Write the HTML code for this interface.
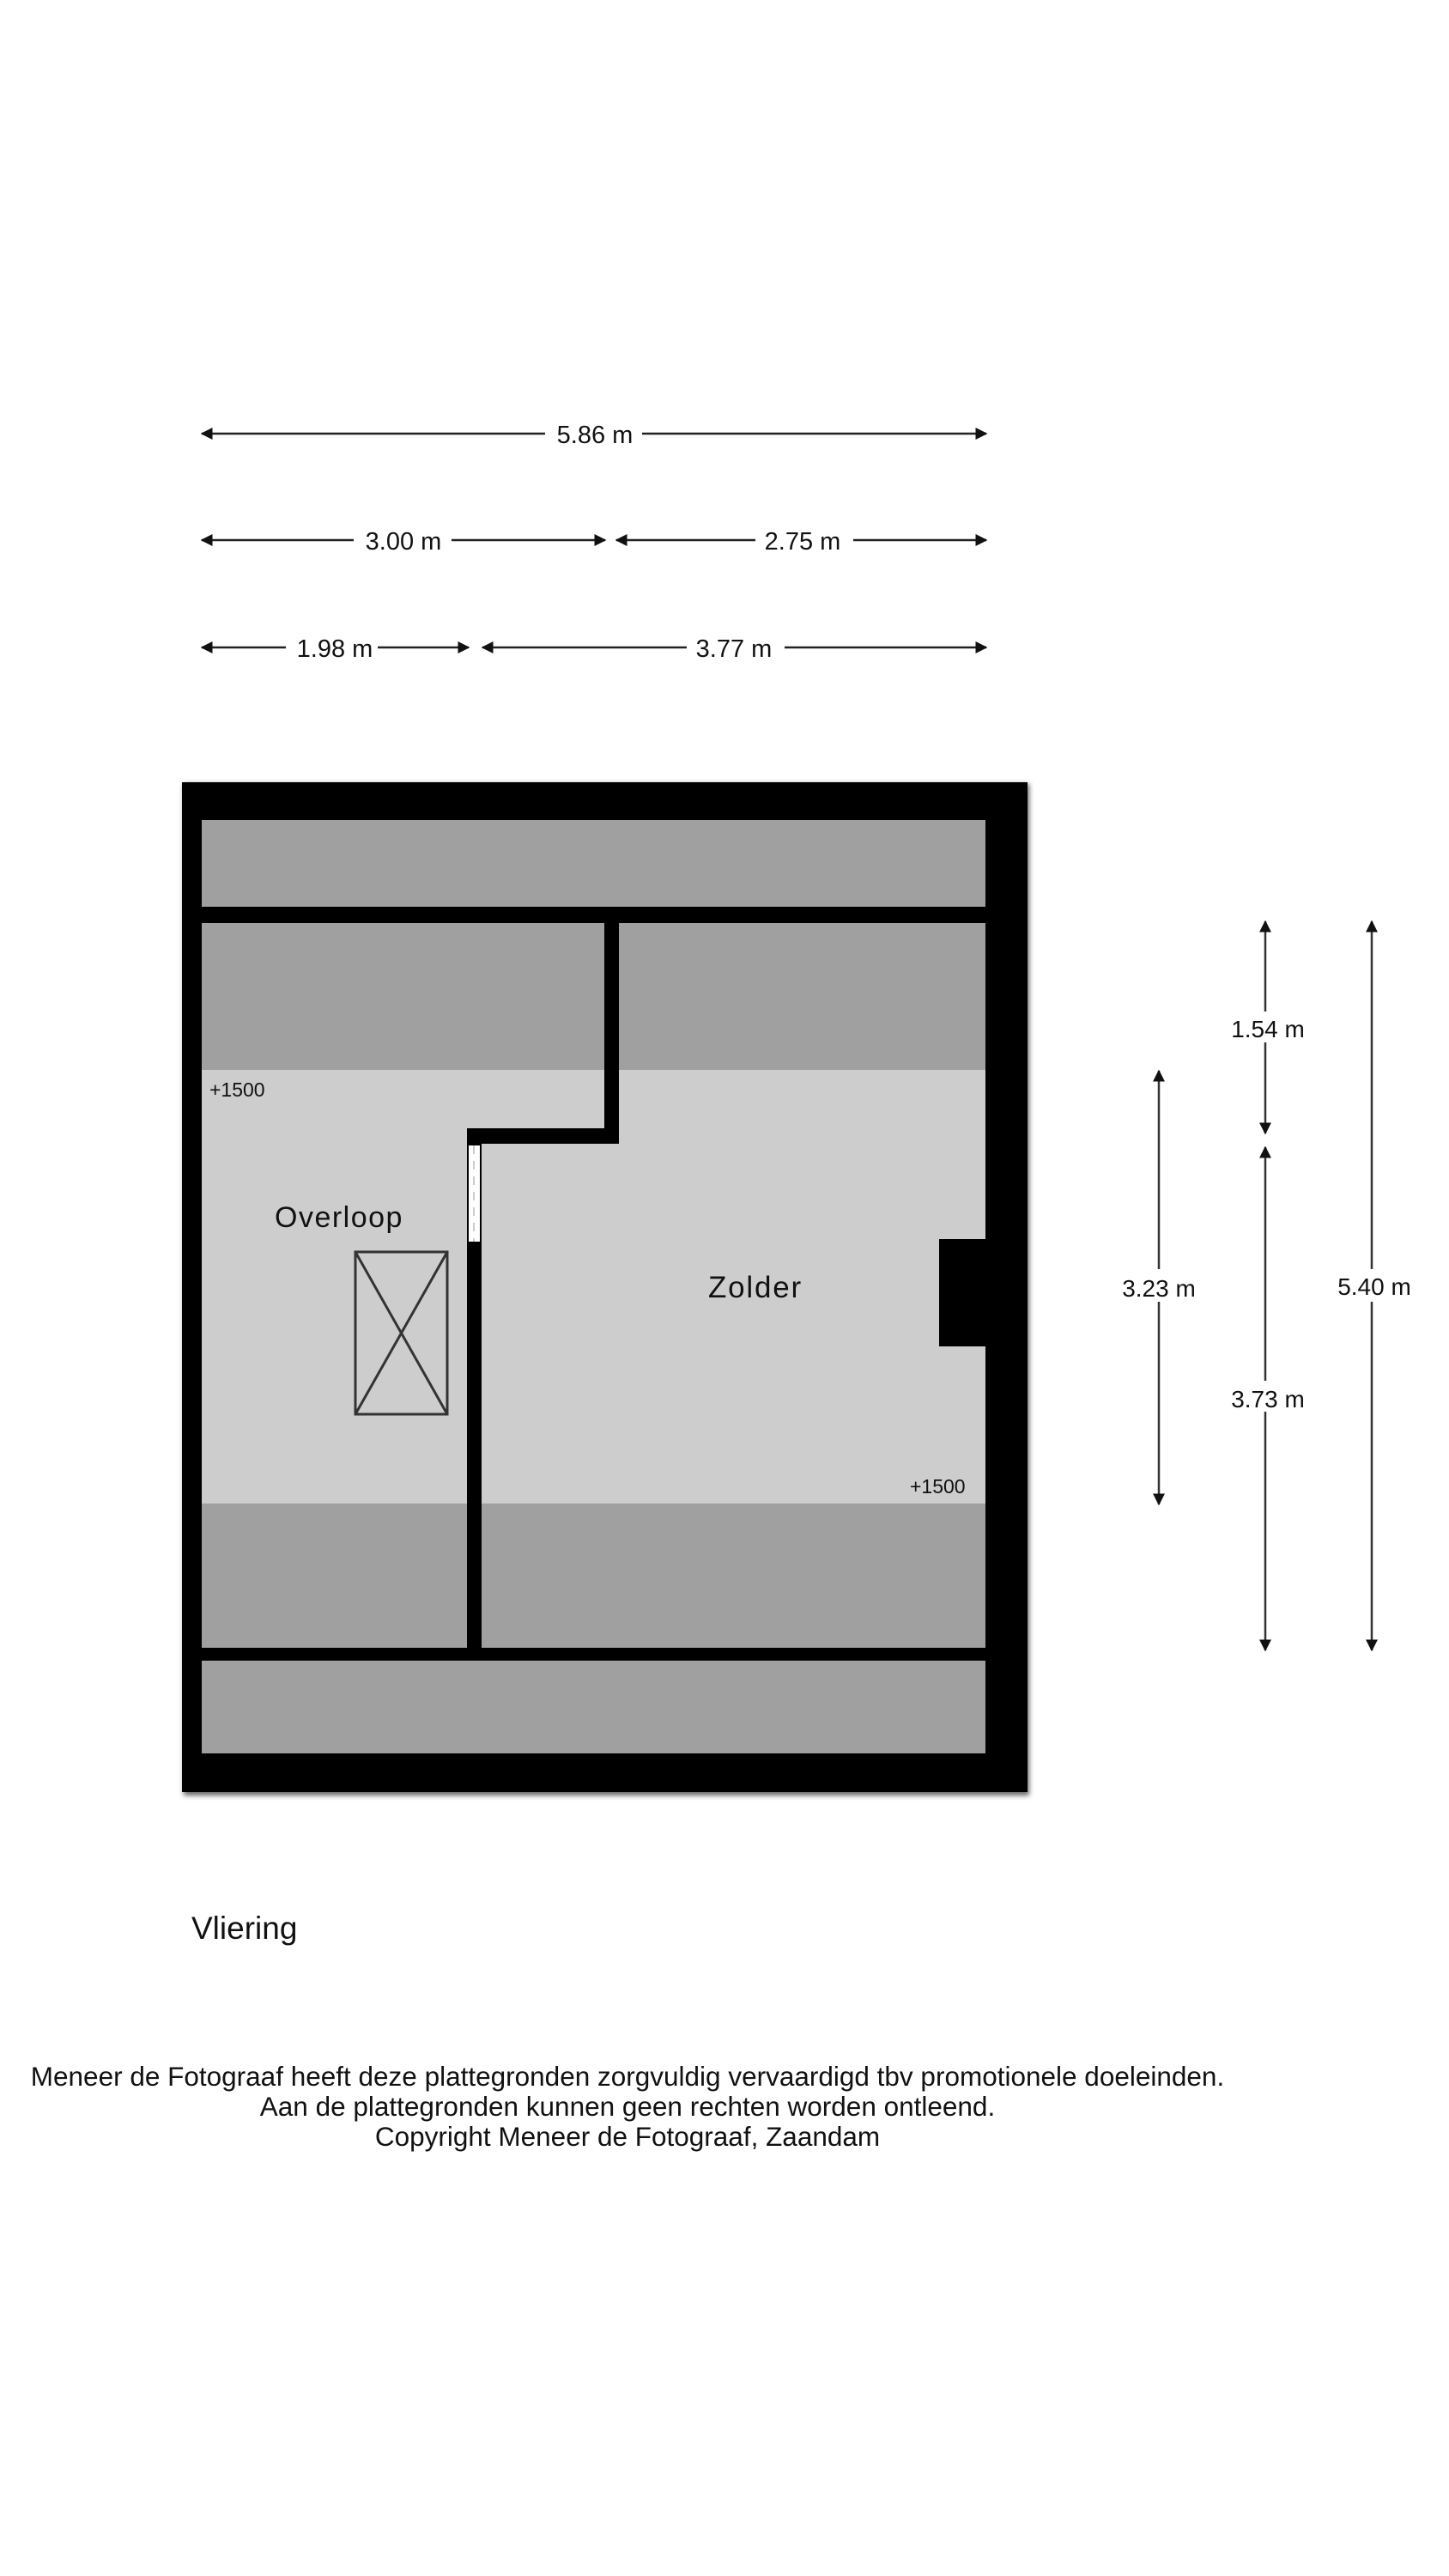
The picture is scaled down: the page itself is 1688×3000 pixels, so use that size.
<!DOCTYPE html>
<html><head><meta charset="utf-8"><style>
html,body{margin:0;padding:0;background:#fff;}
svg{display:block;}
text{font-family:"Liberation Sans",Arial,sans-serif;fill:#111;}
</style></head><body>
<svg width="1688" height="3000" viewBox="0 0 1688 3000" xmlns="http://www.w3.org/2000/svg">
<defs>
<marker id="a" viewBox="0 0 10 10" refX="9" refY="5" markerWidth="14" markerHeight="14" markerUnits="userSpaceOnUse" orient="auto-start-reverse"><path d="M0,0 L10,5 L0,10 z" fill="#111"/></marker>
<filter id="sh"><feGaussianBlur stdDeviation="3"/></filter>
</defs>
<g stroke="#222" stroke-width="2.5" fill="none">
<line x1="235" y1="505" x2="635" y2="505" marker-start="url(#a)"/>
<line x1="748" y1="505" x2="1149" y2="505" marker-end="url(#a)"/>
<line x1="235" y1="629" x2="412" y2="629" marker-start="url(#a)"/>
<line x1="526" y1="629" x2="705" y2="629" marker-end="url(#a)"/>
<line x1="718" y1="629" x2="880" y2="629" marker-start="url(#a)"/>
<line x1="994" y1="629" x2="1149" y2="629" marker-end="url(#a)"/>
<line x1="235" y1="754" x2="333" y2="754" marker-start="url(#a)"/>
<line x1="440" y1="754" x2="546" y2="754" marker-end="url(#a)"/>
<line x1="562" y1="754" x2="800" y2="754" marker-start="url(#a)"/>
<line x1="914" y1="754" x2="1149" y2="754" marker-end="url(#a)"/>
</g>
<g font-size="29" text-anchor="middle">
<text x="693" y="516" font-family="Liberation Sans Narrow, Liberation Sans, sans-serif">5.86 m</text>
<text x="470" y="640" font-family="Liberation Sans Narrow, Liberation Sans, sans-serif">3.00 m</text>
<text x="935" y="640" font-family="Liberation Sans Narrow, Liberation Sans, sans-serif">2.75 m</text>
<text x="390" y="765" font-family="Liberation Sans Narrow, Liberation Sans, sans-serif">1.98 m</text>
<text x="855" y="765" font-family="Liberation Sans Narrow, Liberation Sans, sans-serif">3.77 m</text>
</g>
<g stroke="#333" stroke-width="2.5" fill="none">
<line x1="1350" y1="1247" x2="1350" y2="1478" marker-start="url(#a)"/>
<line x1="1350" y1="1516" x2="1350" y2="1752" marker-end="url(#a)"/>
<line x1="1474" y1="1073" x2="1474" y2="1178" marker-start="url(#a)"/>
<line x1="1474" y1="1214" x2="1474" y2="1320" marker-end="url(#a)"/>
<line x1="1474" y1="1336" x2="1474" y2="1608" marker-start="url(#a)"/>
<line x1="1474" y1="1644" x2="1474" y2="1922" marker-end="url(#a)"/>
<line x1="1598" y1="1073" x2="1598" y2="1478" marker-start="url(#a)"/>
<line x1="1598" y1="1516" x2="1598" y2="1922" marker-end="url(#a)"/>
</g>
<g font-size="28" text-anchor="middle">
<text x="1350" y="1510">3.23 m</text>
<text x="1477" y="1208">1.54 m</text>
<text x="1477" y="1639">3.73 m</text>
<text x="1601" y="1508">5.40 m</text>
</g>
<rect x="214" y="913" width="985" height="1178" fill="#666" filter="url(#sh)"/>
<rect x="212" y="911" width="985" height="1176" fill="#000"/>
<rect x="235" y="955" width="913" height="101" fill="#a0a0a0"/>
<rect x="235" y="1075" width="913" height="171" fill="#a0a0a0"/>
<rect x="235" y="1246" width="913" height="505" fill="#cdcdcd"/>
<rect x="235" y="1751" width="913" height="168" fill="#a0a0a0"/>
<rect x="235" y="1934" width="913" height="108" fill="#a0a0a0"/>
<rect x="704" y="1075" width="17" height="257" fill="#000"/>
<rect x="544" y="1314" width="177" height="18" fill="#000"/>
<rect x="544" y="1314" width="17" height="605" fill="#000"/>
<rect x="546" y="1334" width="13" height="112" fill="#fff"/>
<line x1="552" y1="1334" x2="552" y2="1446" stroke="#ccc" stroke-width="2" stroke-dasharray="10,8"/>
<rect x="1094" y="1443" width="54" height="125" fill="#000"/>
<g stroke="#333" stroke-width="3" fill="none">
<rect x="414" y="1458" width="107" height="189"/>
<line x1="414" y1="1458" x2="521" y2="1647"/>
<line x1="521" y1="1458" x2="414" y2="1647"/>
</g>
<text x="320" y="1429" font-size="34" letter-spacing="1.5">Overloop</text>
<text x="880" y="1511" font-size="35" text-anchor="middle" letter-spacing="1.8">Zolder</text>
<text x="244" y="1277" font-size="23">+1500</text>
<text x="1060" y="1739" font-size="23">+1500</text>
<text x="223" y="2258" font-size="37">Vliering</text>
<g font-size="31.5" text-anchor="middle">
<text x="731" y="2429">Meneer de Fotograaf heeft deze plattegronden zorgvuldig vervaardigd tbv promotionele doeleinden.</text>
<text x="731" y="2464">Aan de plattegronden kunnen geen rechten worden ontleend.</text>
<text x="731" y="2499">Copyright Meneer de Fotograaf, Zaandam</text>
</g>
</svg>
</body></html>
